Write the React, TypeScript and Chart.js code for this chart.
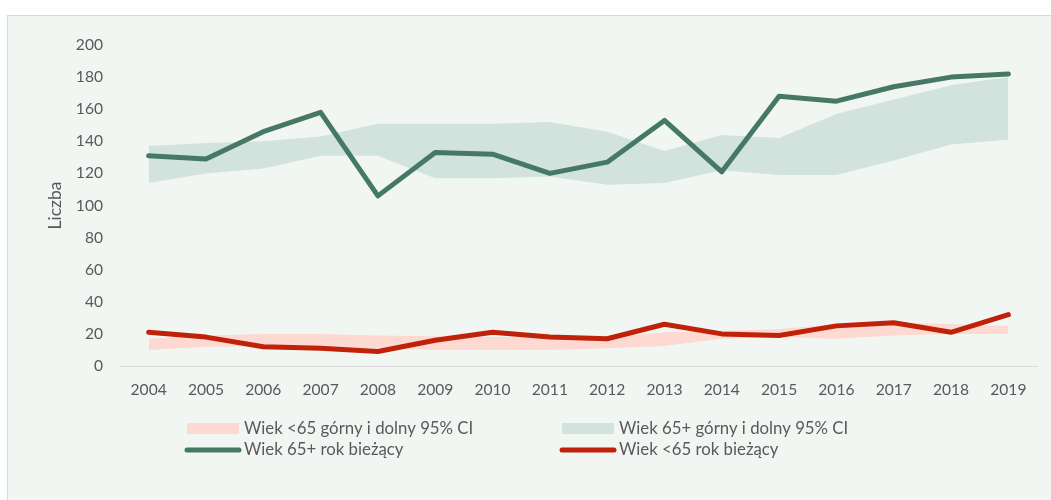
import React, { useEffect, useRef } from 'react';
import { Chart, registerables } from 'chart.js';

Chart.register(...registerables);

const years = ['2004', '2005', '2006', '2007', '2008', '2009', '2010', '2011', '2012', '2013', '2014', '2015', '2016', '2017', '2018', '2019'];
const over65Current = [131, 129, 146, 158, 106, 133, 132, 120, 127, 153, 121, 168, 165, 174, 180, 182];
const over65Upper = [137, 139, 140, 143, 151, 151, 151, 152, 146, 134, 144, 142, 157, 166, 175, 180];
const over65Lower = [114, 120, 123, 131, 131, 117, 117, 118, 113, 114, 122, 119, 119, 128, 138, 141];
const under65Current = [21, 18, 12, 11, 9, 16, 21, 18, 17, 26, 20, 19, 25, 27, 21, 32];
const under65Upper = [17, 19, 20, 20, 19, 18.5, 18, 18, 18, 21, 22, 23, 26, 27, 26, 25];
const under65Lower = [10, 12, 12.5, 12, 11, 10, 10, 10, 11, 12.5, 17, 18, 17, 19, 20, 20];

const yTicks = [0, 20, 40, 60, 80, 100, 120, 140, 160, 180, 200];

const labelOver65Band = 'Wiek 65+ górny i dolny 95% CI';
const labelUnder65Band = 'Wiek <65 górny i dolny 95% CI';
const labelOver65Line = 'Wiek 65+ rok bieżący';
const labelUnder65Line = 'Wiek <65 rok bieżący';

const GREEN = '#457865';
const RED = '#c02209';
const GREEN_BAND = '#d1e3dc';
const RED_BAND = '#fdd9d2';
const TEXT = '#595959';
const FONT = 'Lato';

const gridLegend = {
  id: 'gridLegend',
  afterDraw(chart: any) {
    const ctx = chart.ctx;
    const ds = chart.data.datasets;
    const items = [4, 2, 0, 1];
    const cols = [179, 554];
    const rows = [412.5, 434];
    ctx.save();
    ctx.font = `16.8px ${FONT}`;
    ctx.textBaseline = 'middle';
    ctx.textAlign = 'left';
    items.forEach((idx, i) => {
      const d = ds[idx];
      const x = cols[i % 2];
      const y = rows[Math.floor(i / 2)];
      if (d.fill) {
        ctx.fillStyle = d.backgroundColor;
        ctx.fillRect(x, y - 5.5, 52, 11);
      } else {
        ctx.strokeStyle = d.borderColor;
        ctx.lineWidth = 5;
        ctx.lineCap = 'round';
        ctx.beginPath();
        ctx.moveTo(x, y);
        ctx.lineTo(x + 52, y);
        ctx.stroke();
      }
      ctx.fillStyle = TEXT;
      ctx.fillText(d.label, x + 57, y);
    });
    ctx.restore();
  },
};

export default function App() {
  const ref = useRef<HTMLCanvasElement | null>(null);

  useEffect(() => {
    if (!ref.current) return;
    const chart = new Chart(ref.current, {
      type: 'line',
      data: {
        labels: years,
        datasets: [
          {
            label: labelOver65Line,
            data: over65Current,
            borderColor: GREEN,
            backgroundColor: GREEN,
            borderWidth: 5,
            pointRadius: 0,
            borderCapStyle: 'round',
            borderJoinStyle: 'round',
            fill: false,
            tension: 0,
          },
          {
            label: labelUnder65Line,
            data: under65Current,
            borderColor: RED,
            backgroundColor: RED,
            borderWidth: 5,
            pointRadius: 0,
            borderCapStyle: 'round',
            borderJoinStyle: 'round',
            fill: false,
            tension: 0,
          },
          {
            label: labelOver65Band,
            data: over65Upper,
            borderColor: 'transparent',
            backgroundColor: GREEN_BAND,
            borderWidth: 0,
            pointRadius: 0,
            fill: '+1',
            tension: 0,
          },
          {
            label: labelOver65Band,
            data: over65Lower,
            borderColor: 'transparent',
            backgroundColor: GREEN_BAND,
            borderWidth: 0,
            pointRadius: 0,
            fill: false,
            tension: 0,
          },
          {
            label: labelUnder65Band,
            data: under65Upper,
            borderColor: 'transparent',
            backgroundColor: RED_BAND,
            borderWidth: 0,
            pointRadius: 0,
            fill: '+1',
            tension: 0,
          },
          {
            label: labelUnder65Band,
            data: under65Lower,
            borderColor: 'transparent',
            backgroundColor: RED_BAND,
            borderWidth: 0,
            pointRadius: 0,
            fill: false,
            tension: 0,
          },
        ],
      },
      options: {
        responsive: false,
        animation: false,
        devicePixelRatio: 1,
        layout: { padding: { left: 30, right: 19, top: 29, bottom: 94 } },
        plugins: {
          legend: { display: false },
          tooltip: { enabled: false },
        },
        scales: {
          x: {
            offset: true,
            grid: { display: false, drawTicks: false },
            border: { display: true, color: '#d9d9d9', width: 1 },
            ticks: { color: TEXT, font: { family: FONT, size: 15.6 }, padding: 15, maxRotation: 0, autoSkip: false },
            afterFit: (s: any) => { s.height = 40; },
          },
          y: {
            min: 0,
            max: 200,
            afterBuildTicks: (s: any) => { s.ticks = yTicks.map((v) => ({ value: v })); },
            grid: { display: false, drawTicks: false },
            border: { display: false },
            ticks: { color: TEXT, font: { family: FONT, size: 15.6 }, padding: 17 },
            title: {
              display: true,
              text: 'Liczba',
              color: TEXT,
              font: { family: FONT, size: 17.5 },
              padding: { top: 7, bottom: 0 },
            },
            afterFit: (s: any) => { s.width = 82; },
          },
        },
      },
      plugins: [gridLegend],
    } as any);
    return () => chart.destroy();
  }, []);

  return (
    <div
      style={{
        position: 'absolute',
        left: 7,
        top: 15,
        width: 1050,
        height: 490,
        border: '1px solid #d9d9d9',
        background: '#f2f6f3',
        boxSizing: 'border-box',
      }}
    >
      <canvas ref={ref} width={1048} height={484} style={{ display: 'block', width: 1048, height: 484 }} />
    </div>
  );
}
